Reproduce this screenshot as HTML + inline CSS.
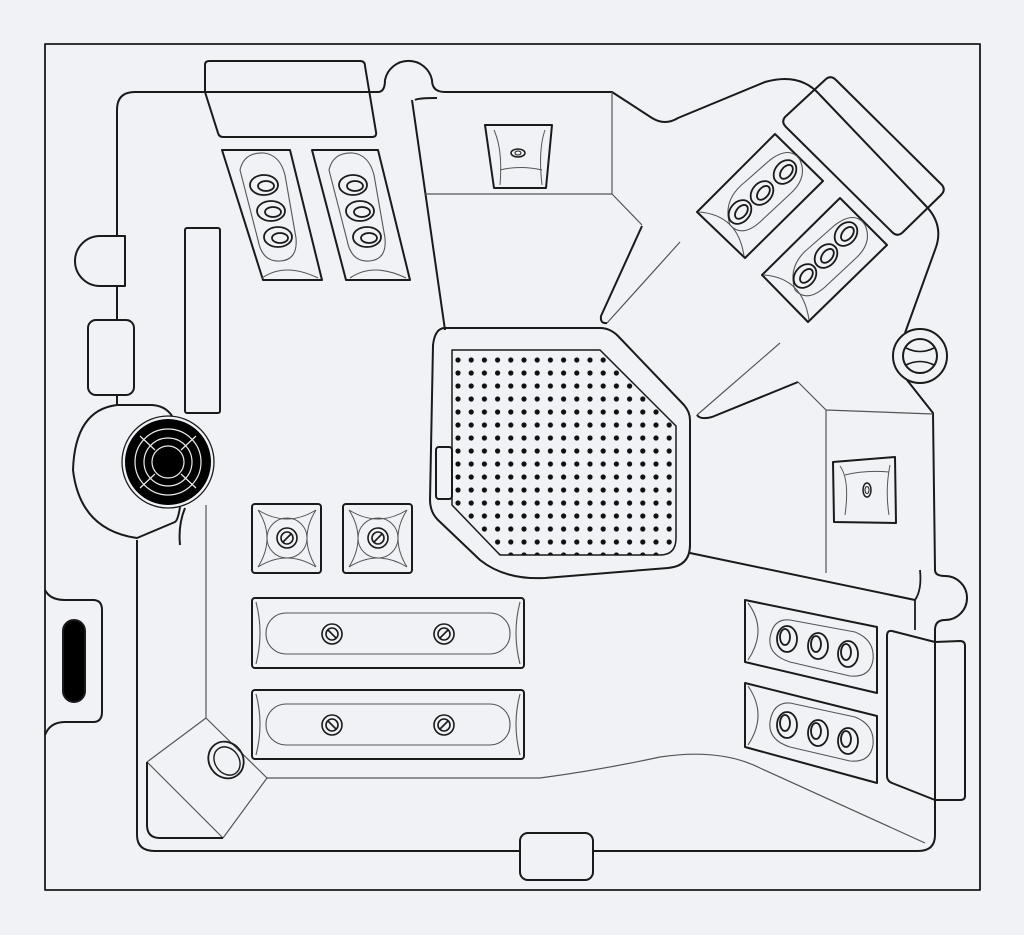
<!DOCTYPE html>
<html><head><meta charset="utf-8"><style>html,body{margin:0;padding:0;background:#f1f2f6}svg{display:block}</style></head>
<body>
<svg width="1024" height="935" viewBox="0 0 1024 935" xmlns="http://www.w3.org/2000/svg">
<defs>
<clipPath id="gc"><path d="M452,350 L600,350 L676,426 L676,538 Q676,555 660,555 L500,555 L452,505 Z"/></clipPath>
<pattern id="dots" x="455" y="357" width="13.2" height="13" patternUnits="userSpaceOnUse"><circle cx="3" cy="3" r="2.6" fill="#111"/></pattern>
</defs>
<rect x="0" y="0" width="1024" height="935" fill="#f1f2f6"/>
<g fill="none" stroke="#1a1a1a" stroke-width="2" stroke-linejoin="round">
<rect x="45" y="44" width="935" height="846" stroke-width="1.8"/>
<path d="M117,235 L117,110 Q117,92 135,92 L378,92 Q385,92 385,80 A24,24 0 0 1 432,80 Q432,92 445,92 L612,92 L652,118 Q665,126 678,118 L765,82 Q800,72 820,95 L925,205 Q945,225 935,250 L905,333"/>
<path d="M907,380 L933,413 L935,570 Q935,576 945,576 A22,22 0 0 1 945,620 Q935,620 935,630 L935,835 Q935,851 918,851 L593,851"/>
<path d="M520,851 L155,851 Q137,851 137,835 L137,540"/>
<path d="M117,286 L117,320 M117,395 L117,405"/>
<circle cx="920" cy="356" r="27"/>
<circle cx="920" cy="356" r="17"/>
<path d="M906,348 Q920,355 934,348 M906,365 Q920,358 934,365" stroke-width="1.6"/>
<path d="M125,236 L100,236 A25,25 0 0 0 100,286 L125,286 Z"/>
<rect x="88" y="320" width="46" height="75" rx="8"/>
<rect x="185" y="228" width="35" height="185" rx="2"/>
<path d="M117,405 L150,405 Q165,405 172,416 M180,507 Q178,520 175,522 L137,538 Q80,530 73,470 Q75,410 117,405"/>
<path d="M185,508 Q178,525 180,545" />
<circle cx="168" cy="462" r="46" stroke-width="1.3"/>
<circle cx="168" cy="462" r="43" fill="#000" stroke="none"/>
<g stroke="#eee" stroke-width="1.2">
<circle cx="168" cy="462" r="33"/><circle cx="168" cy="462" r="24"/><circle cx="168" cy="462" r="16"/>
<path d="M140,436 L155,450 M196,436 L181,450 M140,488 L155,474 M196,488 L181,474"/>
</g>
<path d="M209,61 L360,61 Q365,61 365,66 L376,132 Q377,137 372,137 L223,137 Q219,137 218,133 L205,92 L205,65 Q205,61 209,61 Z"/>
<path d="M222,150 L290,150 L322,280 L263,280 Z"/>
<path d="M312,150 L378,150 L410,280 L346,280 Z"/>
<g stroke-width="1.1" stroke="#555">
<path d="M240,170 Q244,152 264,153 Q280,155 285,175 L296,238 Q298,260 280,261 Q262,262 258,240 Z"/>
<path d="M329,170 Q333,152 353,153 Q369,155 374,175 L385,238 Q387,260 369,261 Q351,262 347,240 Z"/>
<path d="M262,278 Q285,262 318,278 M350,278 Q373,262 406,278"/>
</g>
<g stroke-width="1.8">
<ellipse cx="264" cy="185" rx="14" ry="10"/><ellipse cx="266" cy="186" rx="8" ry="5"/>
<ellipse cx="271" cy="211" rx="14" ry="10"/><ellipse cx="273" cy="212" rx="8" ry="5"/>
<ellipse cx="278" cy="237" rx="14" ry="10"/><ellipse cx="280" cy="238" rx="8" ry="5"/>
<ellipse cx="353" cy="185" rx="14" ry="10"/><ellipse cx="355" cy="186" rx="8" ry="5"/>
<ellipse cx="360" cy="211" rx="14" ry="10"/><ellipse cx="362" cy="212" rx="8" ry="5"/>
<ellipse cx="367" cy="237" rx="14" ry="10"/><ellipse cx="369" cy="238" rx="8" ry="5"/>
</g>
<path d="M415,100 Q418,98 437,98 M412,100 L445,330"/>
<path d="M425,194 L612,194 L612,92 M612,194 L642,225" stroke-width="1.2" stroke="#555"/>
<path d="M642,226 L601,316 Q600,324 607,323"/>
<path d="M607,323 L680,242" stroke-width="1.2" stroke="#555"/>
<path d="M485,125 L552,125 L546,188 L494,188 Z"/>
<path d="M494,130 Q503,150 500,185 M545,130 Q538,150 542,185 M500,170 Q520,165 542,170" stroke-width="1" stroke="#555"/>
<ellipse cx="518" cy="153" rx="7" ry="4" stroke-width="1.5"/><ellipse cx="518" cy="153" rx="3" ry="2" stroke-width="1"/>
<path d="M785,117 L826,79 Q831,75 836,80 L942,185 Q946,190 941,195 L902,233 Q897,237 892,232 L786,127 Q781,122 785,117 Z"/>
<path d="M697,212 L775,134 L823,181 L745,258 Z"/>
<path d="M762,275 L840,198 L887,245 L808,322 Z"/>
<g stroke-width="1.1" stroke="#555">
<path d="M730,225 Q722,200 745,182 L770,160 Q790,145 800,160 Q808,178 790,194 L760,222 Q742,238 730,225 Z"/>
<path d="M795,290 Q787,265 810,247 L835,225 Q855,210 865,225 Q873,243 855,259 L825,287 Q807,303 795,290 Z"/>
<path d="M699,212 Q738,215 744,256 M764,275 Q803,278 809,320"/>
</g>
<g stroke-width="1.8">
<g transform="rotate(-50 740 212)"><ellipse cx="740" cy="212" rx="13" ry="10"/><ellipse cx="741" cy="213" rx="8" ry="5"/></g>
<g transform="rotate(-50 762 193)"><ellipse cx="762" cy="193" rx="13" ry="10"/><ellipse cx="763" cy="194" rx="8" ry="5"/></g>
<g transform="rotate(-50 785 172)"><ellipse cx="785" cy="172" rx="13" ry="10"/><ellipse cx="786" cy="173" rx="8" ry="5"/></g>
<g transform="rotate(-50 805 276)"><ellipse cx="805" cy="276" rx="13" ry="10"/><ellipse cx="806" cy="277" rx="8" ry="5"/></g>
<g transform="rotate(-50 826 256)"><ellipse cx="826" cy="256" rx="13" ry="10"/><ellipse cx="827" cy="257" rx="8" ry="5"/></g>
<g transform="rotate(-50 846 234)"><ellipse cx="846" cy="234" rx="13" ry="10"/><ellipse cx="847" cy="235" rx="8" ry="5"/></g>
</g>
<path d="M697,415 L780,343" stroke-width="1.2" stroke="#555"/>
<path d="M697,415 Q700,420 712,417 L798,382"/>
<path d="M798,382 L826,410 L933,414 M826,410 L826,573" stroke-width="1.2" stroke="#555"/>
<path d="M833,462 L895,457 L896,523 L834,522 Z"/>
<path d="M840,466 Q850,480 845,515 M890,465 Q885,490 889,515 M845,475 Q865,470 889,472" stroke-width="1" stroke="#555"/>
<ellipse cx="867" cy="490" rx="4" ry="7" stroke-width="1.5"/><ellipse cx="867" cy="490" rx="2" ry="3.5" stroke-width="1"/>
<path d="M445,328 L600,328 Q610,328 618,336 L684,405 Q690,412 690,420 L690,545 Q690,566 668,568 L545,578 Q505,580 480,560 L438,520 Q430,512 430,500 L433,345 Q435,328 445,328 Z"/>
<path d="M452,350 L600,350 L676,426 L676,538 Q676,555 660,555 L500,555 L452,505 Z" stroke-width="1.5"/>
<rect x="452" y="350" width="226" height="206" fill="url(#dots)" stroke="none" clip-path="url(#gc)"/>
<rect x="436" y="447" width="16" height="52" rx="3" fill="#f1f2f6"/>
<path d="M690,553 L915,600"/>
<path d="M920,570 Q922,590 915,600 L915,630" stroke-width="1.8"/>
<rect x="252" y="504" width="69" height="69" rx="3"/>
<rect x="343" y="504" width="69" height="69" rx="3"/>
<g stroke-width="1" stroke="#555">
<circle cx="287" cy="538" r="20"/><circle cx="378" cy="538" r="20"/>
<path d="M258,510 Q287,528 316,510 M258,567 Q287,549 316,567 M258,510 Q276,538 258,567 M316,510 Q298,538 316,567"/>
<path d="M349,510 Q378,528 407,510 M349,567 Q378,549 407,567 M349,510 Q367,538 349,567 M407,510 Q389,538 407,567"/>
</g>
<g stroke-width="1.6">
<circle cx="287" cy="538" r="10"/><circle cx="287" cy="538" r="6"/><path d="M283,542 L291,534"/>
<circle cx="378" cy="538" r="10"/><circle cx="378" cy="538" r="6"/><path d="M374,542 L382,534"/>
</g>
<rect x="252" y="598" width="272" height="70" rx="3"/>
<rect x="252" y="690" width="272" height="69" rx="3"/>
<g stroke-width="1.1" stroke="#555">
<rect x="266" y="613" width="244" height="41" rx="20"/>
<rect x="266" y="704" width="244" height="41" rx="20"/>
<path d="M256,602 Q264,633 256,664 M520,602 Q512,633 520,664 M256,694 Q264,724 256,755 M520,694 Q512,724 520,755"/>
</g>
<g stroke-width="1.6">
<circle cx="332" cy="634" r="10"/><circle cx="332" cy="634" r="6"/><path d="M328,630 L336,638"/>
<circle cx="444" cy="634" r="10"/><circle cx="444" cy="634" r="6"/><path d="M440,638 L448,630"/>
<circle cx="332" cy="725" r="10"/><circle cx="332" cy="725" r="6"/><path d="M328,721 L336,729"/>
<circle cx="444" cy="725" r="10"/><circle cx="444" cy="725" r="6"/><path d="M440,729 L448,721"/>
</g>
<path d="M45,590 Q50,600 65,600 L93,600 Q102,600 102,610 L102,712 Q102,722 93,722 L65,722 Q50,722 45,735"/>
<rect x="63" y="620" width="22" height="82" rx="11" fill="#000"/>
<path d="M206,505 L206,718 M206,718 L147,762 M206,718 L267,778 L223,838 M147,762 L223,838 M267,778 L540,778" stroke-width="1.2" stroke="#555"/>
<path d="M147,762 L147,825 Q147,838 160,838 L223,838"/>
<ellipse cx="226" cy="760" rx="17" ry="19" transform="rotate(-35 226 760)" stroke-width="1.8"/>
<ellipse cx="227" cy="761" rx="12" ry="15" transform="rotate(-35 227 761)" stroke-width="1.4"/>
<path d="M540,778 Q600,770 660,757 Q720,748 760,768 L925,843" stroke-width="1.2" stroke="#555"/>
<rect x="520" y="833" width="73" height="47" rx="8"/>
<path d="M745,600 L877,627 L877,693 L745,662 Z"/>
<path d="M745,683 L877,716 L877,783 L745,747 Z"/>
<g stroke-width="1.1" stroke="#555">
<path d="M790,620 L855,632 Q875,640 873,660 Q870,678 850,676 L790,662 Q768,655 770,638 Q773,618 790,620 Z"/>
<path d="M790,703 L855,717 Q875,725 873,745 Q870,763 850,761 L790,747 Q768,740 770,722 Q773,702 790,703 Z"/>
<path d="M748,603 Q768,630 748,660 M748,686 Q768,715 748,745"/>
</g>
<g stroke-width="1.8">
<ellipse cx="787" cy="639" rx="10" ry="13"/><ellipse cx="785" cy="637" rx="5" ry="8"/>
<ellipse cx="818" cy="646" rx="10" ry="13"/><ellipse cx="816" cy="644" rx="5" ry="8"/>
<ellipse cx="848" cy="654" rx="10" ry="13"/><ellipse cx="846" cy="652" rx="5" ry="8"/>
<ellipse cx="787" cy="725" rx="10" ry="13"/><ellipse cx="785" cy="723" rx="5" ry="8"/>
<ellipse cx="818" cy="733" rx="10" ry="13"/><ellipse cx="816" cy="731" rx="5" ry="8"/>
<ellipse cx="848" cy="741" rx="10" ry="13"/><ellipse cx="846" cy="739" rx="5" ry="8"/>
</g>
<path d="M892,631 L935,642 L960,641 Q965,641 965,646 L965,796 Q965,800 960,800 L935,800 L892,783 Q887,781 887,776 L887,636 Q887,630 892,631 Z"/>
</g>
</svg>
</body></html>
